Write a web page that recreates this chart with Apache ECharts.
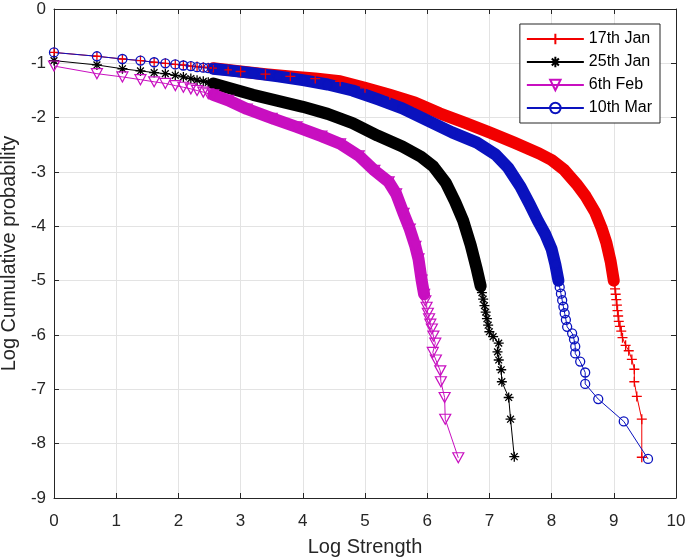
<!DOCTYPE html>
<html>
<head>
<meta charset="utf-8">
<script src="https://cdn.jsdelivr.net/npm/echarts@6/dist/echarts.min.js"></script>
<style>
html,body{margin:0;padding:0;background:#fff;}
#chart{width:686px;height:559px;}
</style>
</head>
<body>
<div id="chart"></div>
<script>
// ---- data ----
const seriesNames = ['17th Jan', '25th Jan', '6th Feb', '10th Mar'];
const xTicks = [0, 1, 2, 3, 4, 5, 6, 7, 8, 9, 10];
const yTicks = [0, -1, -2, -3, -4, -5, -6, -7, -8, -9];

// 17th Jan
const jan17Head = [[0,-0.80],[0.69,-0.87],[1.10,-0.92],[1.39,-0.95],[1.61,-0.98],[1.79,-1.00],[1.95,-1.02],[2.08,-1.03],[2.20,-1.05],[2.30,-1.06],[2.40,-1.07],[2.48,-1.08]];
const jan17Band = [[2.56,-1.09],[2.8,-1.12],[3.0,-1.15],[3.4,-1.20],[3.8,-1.24],[4.2,-1.28],[4.6,-1.33],[5.0,-1.45],[5.4,-1.58],[5.8,-1.72],[6.2,-1.92],[6.6,-2.09],[7.0,-2.27],[7.4,-2.46],[7.8,-2.66],[8.0,-2.78],[8.2,-2.96],[8.4,-3.22],[8.55,-3.45],[8.7,-3.74],[8.8,-4.02],[8.88,-4.30],[8.95,-4.65],[9.0,-5.0]];
const jan17Tail = [[9.02,-5.15],[9.03,-5.25],[9.04,-5.35],[9.05,-5.45],[9.06,-5.55],[9.07,-5.65],[9.08,-5.75],[9.10,-5.84],[9.12,-5.93],[9.14,-6.05],[9.19,-6.19],[9.24,-6.29],[9.29,-6.45],[9.33,-6.63],[9.33,-6.86],[9.37,-7.13],[9.45,-7.55],[9.45,-8.25]];

// 25th Jan
const jan25Head = [[0,-0.95],[0.69,-1.03],[1.10,-1.10],[1.39,-1.14],[1.61,-1.17],[1.79,-1.19],[1.95,-1.22],[2.08,-1.25],[2.20,-1.28],[2.30,-1.31],[2.40,-1.33],[2.48,-1.35]];
const jan25Band = [[2.56,-1.37],[2.8,-1.45],[3.2,-1.58],[3.6,-1.69],[4.0,-1.80],[4.4,-1.93],[4.8,-2.10],[5.2,-2.33],[5.6,-2.53],[5.9,-2.72],[6.1,-2.90],[6.3,-3.2],[6.45,-3.55],[6.58,-3.9],[6.7,-4.35],[6.8,-4.8],[6.86,-5.1]];
const jan25Tail = [[6.88,-5.22],[6.90,-5.34],[6.92,-5.46],[6.94,-5.58],[6.96,-5.70],[6.98,-5.82],[7.00,-5.94],[7.06,-6.03],[7.15,-6.15],[7.13,-6.31],[7.15,-6.46],[7.19,-6.64],[7.20,-6.86],[7.31,-7.15],[7.34,-7.55],[7.40,-8.24]];

// 6th Feb
const feb6Head = [[0,-1.05],[0.69,-1.19],[1.10,-1.25],[1.39,-1.30],[1.61,-1.34],[1.79,-1.37],[1.95,-1.41],[2.08,-1.44],[2.20,-1.47],[2.30,-1.50],[2.40,-1.53],[2.48,-1.56]];
const feb6Band = [[2.56,-1.58],[2.8,-1.68],[3.1,-1.84],[3.5,-2.01],[3.9,-2.17],[4.3,-2.34],[4.6,-2.48],[4.9,-2.70],[5.15,-2.97],[5.38,-3.18],[5.5,-3.4],[5.62,-3.76],[5.72,-4.05],[5.81,-4.37],[5.86,-4.6],[5.91,-4.99],[5.95,-5.25]];
const feb6Tail = [[5.97,-5.37],[5.99,-5.49],[6.01,-5.60],[6.03,-5.70],[6.05,-5.80],[6.075,-5.89],[6.10,-6.02],[6.13,-6.15],[6.09,-6.32],[6.14,-6.46],[6.21,-6.66],[6.22,-6.86],[6.28,-7.15],[6.29,-7.55],[6.50,-8.26]];

// 10th Mar
const mar10Head = [[0,-0.80],[0.69,-0.87],[1.10,-0.92],[1.39,-0.95],[1.61,-0.98],[1.79,-1.00],[1.95,-1.02],[2.08,-1.04],[2.20,-1.05],[2.30,-1.07],[2.40,-1.08],[2.48,-1.09]];
const mar10Band = [[2.56,-1.10],[2.8,-1.13],[3.2,-1.18],[3.6,-1.24],[4.0,-1.31],[4.4,-1.39],[4.8,-1.50],[5.2,-1.66],[5.6,-1.83],[6.0,-2.05],[6.4,-2.27],[6.8,-2.46],[7.1,-2.68],[7.3,-2.92],[7.5,-3.27],[7.65,-3.6],[7.78,-3.9],[7.9,-4.15],[8.0,-4.42],[8.06,-4.7],[8.11,-5.0]];
const mar10Tail = [[8.13,-5.12],[8.15,-5.24],[8.17,-5.36],[8.19,-5.48],[8.21,-5.60],[8.23,-5.72],[8.25,-5.85],[8.33,-5.97],[8.36,-6.08],[8.38,-6.21],[8.38,-6.34],[8.46,-6.49],[8.54,-6.69],[8.54,-6.90],[8.75,-7.18],[9.16,-7.59],[9.55,-8.28]];

// ---- styles ----
const FONT = '"Liberation Sans", Arial, Helvetica, sans-serif';
const AX = '#262626';
const colors = ['#F20000', '#000000', '#C80FC0', '#0A12BE'];
const PLUS = 'path://M5,0L5,10M0,5L10,5';
const STAR = 'path://M5,0L5,10M0,5L10,5M1.6,1.6L8.4,8.4M8.4,1.6L1.6,8.4';
const markers = [
  {symbol: PLUS, size: 10, rotate: 0, bw: 1.3},
  {symbol: STAR, size: 10, rotate: 0, bw: 1.3},
  {symbol: 'triangle', size: [11, 10], rotate: 180, bw: 1.2},
  {symbol: 'circle', size: 9, rotate: 0, bw: 1.3}
];
const heads = [jan17Head, jan25Head, feb6Head, mar10Head];
const bands = [jan17Band, jan25Band, feb6Band, mar10Band];
const tails = [jan17Tail, jan25Tail, feb6Tail, mar10Tail];

const series = [];
seriesNames.forEach((name, i) => {
  series.push({
    name: name + ' band',
    type: 'line',
    data: bands[i],
    symbol: 'none',
    silent: true,
    lineStyle: {color: colors[i], width: 12, cap: 'round', join: 'round'},
    itemStyle: {color: colors[i]}
  });
  series.push({
    name: name,
    type: 'line',
    data: heads[i].concat(bands[i], tails[i]),
    symbol: markers[i].symbol,
    symbolSize: markers[i].size,
    symbolRotate: markers[i].rotate,
    showAllSymbol: true,
    lineStyle: {color: colors[i], width: 1},
    itemStyle: {color: 'rgba(0,0,0,0)', borderColor: colors[i], borderWidth: markers[i].bw}
  });
});

const chart = echarts.init(document.getElementById('chart'), null, {renderer: 'canvas'});
const axisCommon = {
  type: 'value',
  axisLine: {show: true, onZero: false, lineStyle: {color: AX, width: 1}},
  axisTick: {show: true, inside: true, length: 5, lineStyle: {color: AX}},
  splitLine: {show: false}
};
chart.setOption({
  animation: false,
  backgroundColor: '#fff',
  grid: {left: 54, top: 9, right: 10, bottom: 61, containLabel: false, outerBoundsMode: 'none'},
  legend: {
    data: seriesNames,
    orient: 'vertical',
    right: 26,
    top: 24,
    padding: [7, 8, 7, 6],
    itemGap: 7,
    itemWidth: 57,
    itemHeight: 13,
    borderColor: AX,
    borderWidth: 1,
    backgroundColor: '#fff',
    textStyle: {fontFamily: FONT, fontSize: 16, color: '#000'}
  },
  xAxis: [
    Object.assign({}, axisCommon, {
      position: 'bottom',
      min: xTicks[0], max: xTicks[xTicks.length - 1], interval: 1,
      name: 'Log Strength', nameLocation: 'middle', nameGap: 39,
      nameTextStyle: {fontFamily: FONT, fontSize: 20, color: AX},
      axisLabel: {show: true, margin: 15, fontFamily: FONT, fontSize: 17, color: AX},
      splitLine: {show: true, lineStyle: {color: '#E3E3E3', width: 1}}
    }),
    Object.assign({}, axisCommon, {
      position: 'top',
      min: xTicks[0], max: xTicks[xTicks.length - 1], interval: 1,
      axisLabel: {show: false}
    })
  ],
  yAxis: [
    Object.assign({}, axisCommon, {
      position: 'left',
      min: yTicks[yTicks.length - 1], max: yTicks[0], interval: 1,
      name: 'Log Cumulative probability', nameLocation: 'middle', nameGap: 27,
      nameTextStyle: {fontFamily: FONT, fontSize: 20, color: AX},
      axisLabel: {show: true, margin: 8, fontFamily: FONT, fontSize: 17, color: AX},
      splitLine: {show: true, lineStyle: {color: '#E3E3E3', width: 1}}
    }),
    Object.assign({}, axisCommon, {
      position: 'right',
      min: yTicks[yTicks.length - 1], max: yTicks[0], interval: 1,
      axisLabel: {show: false}
    })
  ],
  series: series
});
</script>
</body>
</html>
